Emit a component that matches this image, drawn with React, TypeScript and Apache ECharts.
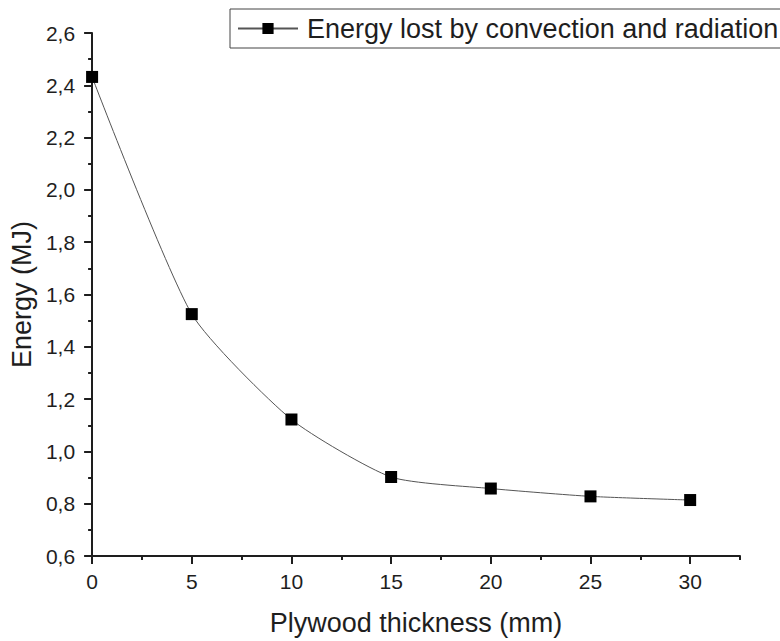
import React, { useEffect, useRef } from "react";
import * as echarts from "echarts";

// Plywood thickness (mm) and the energy lost through the walls (MJ)
const thickness = [0, 5, 10, 15, 20, 25, 30];
const energyLost = [2.432, 1.525, 1.122, 0.902, 0.858, 0.828, 0.814];

const seriesName = "Energy lost by convection and radiation";

const xMajorTicks = [0, 5, 10, 15, 20, 25, 30];
const xMinorTicks = [2.5, 7.5, 12.5, 17.5, 22.5, 27.5, 32.5];
const yMajorTicks = [0.6, 0.8, 1.0, 1.2, 1.4, 1.6, 1.8, 2.0, 2.2, 2.4, 2.6];
const yMinorTicks = [0.7, 0.9, 1.1, 1.3, 1.5, 1.7, 1.9, 2.1, 2.3, 2.5];

const FONT = "'Liberation Sans', Arial, sans-serif";
const INK = "#1e1e1e";

export default function App() {
  const ref = useRef<HTMLDivElement>(null);

  useEffect(() => {
    document.body.style.margin = "0";
    if (!ref.current) return;
    const chart = echarts.init(ref.current, undefined, { renderer: "svg" });

    const axisLine = { show: true, lineStyle: { color: INK, width: 2 } };
    const xRange = { type: "value" as const, min: 0, max: 32.5 };
    const yRange = { type: "value" as const, min: 0.6, max: 2.6 };

    chart.setOption({
      animation: false,
      backgroundColor: "#ffffff",
      textStyle: { fontFamily: FONT },
      grid: { left: 92, right: 40, top: 33, bottom: 84 },
      legend: {
        left: 230,
        top: 9,
        padding: [6, 20, 6, 7],
        borderColor: "#444",
        borderWidth: 1,
        itemWidth: 60,
        itemHeight: 14,
        textStyle: {
          fontFamily: FONT,
          fontSize: 27,
          color: INK,
          padding: [0, 0, 0, 4],
        },
        data: [seriesName],
      },
      xAxis: [
        {
          ...xRange,
          position: "bottom",
          axisLine,
          splitLine: { show: false },
          axisTick: {
            show: true,
            length: 8,
            customValues: xMajorTicks,
            lineStyle: { color: INK, width: 2 },
          },
          axisLabel: {
            customValues: xMajorTicks,
            fontSize: 21,
            color: INK,
            margin: 15,
            fontFamily: FONT,
          },
          name: "Plywood thickness (mm)",
          nameLocation: "middle",
          nameGap: 53,
          nameTextStyle: { fontSize: 27, color: INK, fontFamily: FONT },
        },
        {
          ...xRange,
          position: "bottom",
          axisLine: { show: false },
          splitLine: { show: false },
          axisLabel: { show: false },
          axisTick: {
            show: true,
            length: 4,
            customValues: xMinorTicks,
            lineStyle: { color: INK, width: 2 },
          },
        },
      ],
      yAxis: [
        {
          ...yRange,
          position: "left",
          axisLine,
          splitLine: { show: false },
          axisTick: {
            show: true,
            length: 8,
            customValues: yMajorTicks,
            lineStyle: { color: INK, width: 2 },
          },
          axisLabel: {
            customValues: yMajorTicks,
            fontSize: 21,
            color: INK,
            margin: 17,
            fontFamily: FONT,
            formatter: (v: number) => v.toFixed(1).replace(".", ","),
          },
          name: "Energy (MJ)",
          nameLocation: "middle",
          nameGap: 52,
          nameTextStyle: { fontSize: 27, color: INK, fontFamily: FONT },
        },
        {
          ...yRange,
          position: "left",
          axisLine: { show: false },
          splitLine: { show: false },
          axisLabel: { show: false },
          axisTick: {
            show: true,
            length: 4,
            customValues: yMinorTicks,
            lineStyle: { color: INK, width: 2 },
          },
        },
      ],
      series: [
        {
          name: seriesName,
          type: "line",
          xAxisIndex: 0,
          yAxisIndex: 0,
          data: thickness.map((t, i) => [t, energyLost[i]]),
          smooth: 0.2,
          symbol: "rect",
          symbolSize: 12,
          clip: false,
          lineStyle: { color: "#555", width: 1 },
          itemStyle: { color: "#000" },
        },
      ],
    });

    return () => chart.dispose();
  }, []);

  return <div ref={ref} style={{ width: 780, height: 641 }} />;
}
